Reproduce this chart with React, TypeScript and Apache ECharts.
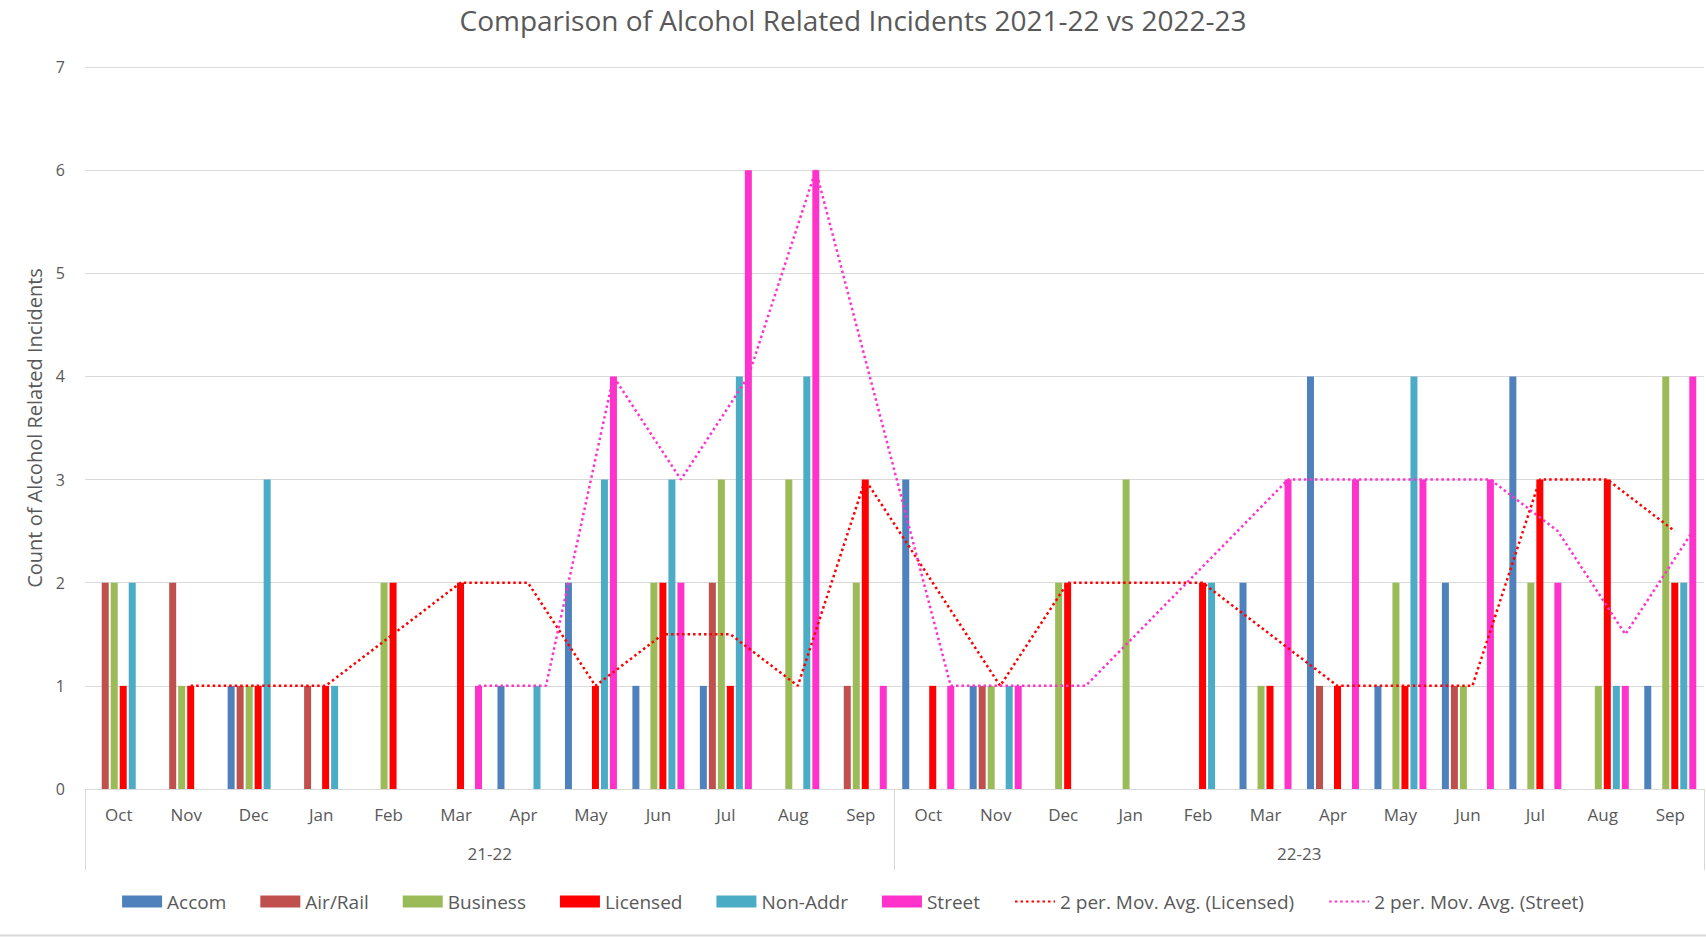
import React, { useEffect, useRef } from "react";
import * as echarts from "echarts";

const months = ["Oct", "Nov", "Dec", "Jan", "Feb", "Mar", "Apr", "May", "Jun", "Jul", "Aug", "Sep"];
const years = ["21-22", "22-23"];
const categories = [...months, ...months];

const accom = [null, null, 1, null, null, null, 1, 2, 1, 1, null, null, 3, 1, null, null, null, 2, 4, 1, 2, 4, null, 1];
const airRail = [2, 2, 1, 1, null, null, null, null, null, 2, null, 1, null, 1, null, null, null, null, 1, null, 1, null, null, null];
const business = [2, 1, 1, null, 2, null, null, null, 2, 3, 3, 2, null, 1, 2, 3, null, 1, null, 2, 1, 2, 1, 4];
const licensed = [1, 1, 1, 1, 2, 2, null, 1, 2, 1, null, 3, 1, null, 2, null, 2, 1, 1, 1, null, 3, 3, 2];
const nonAddr = [2, null, 3, 1, null, null, 1, 3, 3, 4, 4, null, null, 1, null, null, 2, null, null, 4, null, null, 1, 2];
const street = [null, null, null, null, null, 1, null, 4, 2, 6, 6, 1, 1, 1, null, null, null, 3, 3, 3, 3, 2, 1, 4];

const maLicensed = [null, 1, 1, 1, 1.5, 2, 2, 1, 1.5, 1.5, 1, 3, 2, 1, 2, 2, 2, 1.5, 1, 1, 1, 3, 3, 2.5];
const maStreet = [null, null, null, null, null, 1, 1, 4, 3, 4, 6, 3.5, 1, 1, 1, null, null, 3, 3, 3, 3, 2.5, 1.5, 2.5];

const seriesNames = ["Accom", "Air/Rail", "Business", "Licensed", "Non-Addr", "Street"];
const seriesData = [accom, airRail, business, licensed, nonAddr, street];
const colors = ["#4F81BD", "#C0504D", "#9BBB59", "#FF0000", "#4BACC6", "#FF33CC"];
const maNames = ["2 per. Mov. Avg. (Licensed)", "2 per. Mov. Avg. (Street)"];

const W = 1706;
const H = 937;
const GRID_LEFT = 85;
const GRID_RIGHT = 2;
const GRID_TOP = 67;
const GRID_BOTTOM = 148;
const BAR_W = 7;
const BAR_GAP = 2;
const FONT = '"Open Sans", "Liberation Sans", Arial, sans-serif';
const TXT = "#595959";
const GRIDC = "#d9d9d9";

export default function App() {
  const ref = useRef<HTMLDivElement>(null);
  useEffect(() => {
    if (!ref.current) return;
    const chart = echarts.init(ref.current, null, { renderer: "svg" });
    const catW = (W - GRID_LEFT - GRID_RIGHT) / categories.length;
    const pitch = BAR_W + BAR_GAP;
    const offFrac = (idx: number) => ((idx - (seriesNames.length - 1) / 2) * pitch) / catW;

    const linePoints = (arr: (number | null)[], idx: number) =>
      arr
        .map((v, i) => (v == null ? null : [i + 0.5 + offFrac(idx), v]))
        .filter((p) => p !== null);

    const bars = seriesNames.map((n, i) => ({
      name: n,
      type: "bar",
      xAxisIndex: 0,
      yAxisIndex: 0,
      barWidth: BAR_W,
      barGap: `${(BAR_GAP / BAR_W) * 100}%`,
      itemStyle: { color: colors[i] },
      data: seriesData[i],
    }));

    const lines = [
      { name: maNames[0], idx: 3, data: maLicensed, color: "#FF0000" },
      { name: maNames[1], idx: 5, data: maStreet, color: "#FF33CC" },
    ].map((l) => ({
      name: l.name,
      type: "line",
      xAxisIndex: 2,
      yAxisIndex: 0,
      symbol: "none",
      showSymbol: false,
      z: 5,
      lineStyle: { color: l.color, width: 2.5, type: [2.5, 3] },
      itemStyle: { color: l.color },
      data: linePoints(l.data, l.idx),
    }));

    chart.setOption({
      animation: false,
      textStyle: { fontFamily: FONT },
      title: {
        text: "Comparison of Alcohol Related Incidents 2021-22 vs 2022-23",
        left: "center",
        top: 1,
        textStyle: { fontFamily: FONT, fontSize: 28, fontWeight: "normal", color: TXT },
      },
      legend: {
        top: 887,
        left: "center",
        itemWidth: 40,
        itemHeight: 12,
        itemGap: 34,
        textStyle: { fontFamily: FONT, fontSize: 19, color: TXT },
        data: [
          ...seriesNames.map((n) => ({ name: n, icon: "rect" })),
          ...maNames.map((n) => ({ name: n, itemStyle: { opacity: 0 } })),
        ],
      },
      grid: { left: GRID_LEFT, right: GRID_RIGHT, top: GRID_TOP, bottom: GRID_BOTTOM, containLabel: false },
      xAxis: [
        {
          type: "category",
          data: categories,
          boundaryGap: true,
          axisLine: { show: true, lineStyle: { color: GRIDC, width: 1 } },
          axisTick: { show: false },
          axisLabel: { interval: 0, margin: 17, fontSize: 17, color: TXT, fontFamily: FONT },
        },
        {
          type: "category",
          data: years,
          position: "bottom",
          boundaryGap: true,
          axisLine: { show: false },
          axisTick: { show: true, length: 81, lineStyle: { color: GRIDC, width: 1 } },
          axisLabel: { interval: 0, margin: 56, fontSize: 17, color: TXT, fontFamily: FONT },
          splitLine: { show: false },
        },
        {
          type: "value",
          min: 0,
          max: categories.length,
          show: false,
          splitLine: { show: false },
        },
      ],
      yAxis: {
        type: "value",
        min: 0,
        max: 7,
        interval: 1,
        name: "Count of Alcohol Related Incidents",
        nameLocation: "middle",
        nameGap: 40,
        nameTextStyle: { fontFamily: FONT, fontSize: 20, color: TXT },
        axisLine: { show: false },
        axisTick: { show: false },
        axisLabel: { margin: 20, fontSize: 16, color: TXT, fontFamily: FONT },
        splitLine: { lineStyle: { color: GRIDC, width: 1 } },
      },
      graphic: [
        {
          type: "line",
          shape: { x1: 0, y1: H - 1.5, x2: W, y2: H - 1.5 },
          style: { stroke: GRIDC, lineWidth: 2 },
        },
      ],
      series: [...bars, ...lines],
    });
    return () => chart.dispose();
  }, []);
  return (
    <div
      ref={ref}
      style={{ position: "fixed", left: 0, top: 0, width: W, height: H, background: "#fff" }}
    />
  );
}
